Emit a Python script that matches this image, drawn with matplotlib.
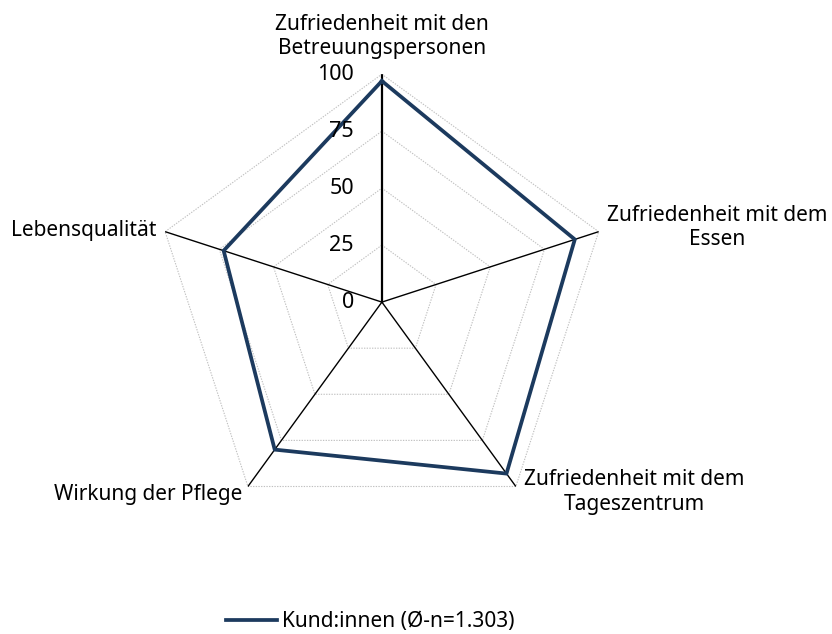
import numpy as np
import matplotlib.pyplot as plt
from matplotlib.lines import Line2D

plt.rcParams['font.family'] = ['Noto Sans', 'DejaVu Sans']

categories = ['Zufriedenheit mit den\nBetreuungspersonen',
              'Zufriedenheit mit dem\nEssen',
              'Zufriedenheit mit dem\nTageszentrum',
              'Wirkung der Pflege',
              'Lebensqualität']
values = [97, 89, 93, 80, 73]
ticks = [0, 25, 50, 75, 100]
series_name = 'Kund:innen (Ø-n=1.303)'

navy = '#1c3a5e'
n = len(categories)
theta = np.arange(n) * 2 * np.pi / n

fig = plt.figure(figsize=(8.32, 6.34), dpi=100)
fig.patch.set_facecolor('white')
ax = fig.add_axes([0.185, 0.164, 0.548, 0.719], projection='polar')
ax.set_theta_offset(np.pi / 2)
ax.set_theta_direction(-1)
ax.set_ylim(0, 100)
ax.grid(False)
ax.spines['polar'].set_visible(False)
ax.set_xticks([])
ax.set_yticks([])
ax.patch.set_alpha(0)

# pentagon grid
th_closed = np.append(theta, theta[0])
for t in ticks[1:]:
    ax.plot(th_closed, [t] * (n + 1), color='#c0c0c0', lw=0.8,
            ls=(0, (1.2, 1.2)), zorder=1)

# spokes
for i, th in enumerate(theta):
    ax.plot([th, th], [0, 100], color='black', lw=1.6 if i == 0 else 1.0, zorder=2)

# data
vals_closed = values + values[:1]
ax.plot(th_closed, vals_closed, color=navy, lw=2.7, zorder=3, solid_joinstyle='miter')

# value tick labels
fs = 15
for t in ticks:
    ax.annotate(str(t), xy=(0, t), xytext=(-20, 0), textcoords='offset points',
                ha='right', va='center', fontsize=15.5, color='black')

# category labels
ax.annotate(categories[0], xy=(theta[0], 100), xytext=(0, 11), textcoords='offset points',
            ha='center', va='bottom', fontsize=fs, linespacing=1.2)
ax.annotate(categories[1], xy=(theta[1], 100), xytext=(6, 3), textcoords='offset points',
            ha='left', va='center', fontsize=fs, linespacing=1.2, multialignment='center')
ax.annotate(categories[2], xy=(theta[2], 100), xytext=(6, -4), textcoords='offset points',
            ha='left', va='center', fontsize=fs, linespacing=1.2, multialignment='center')
ax.annotate(categories[3], xy=(theta[3], 100), xytext=(-4, -6), textcoords='offset points',
            ha='right', va='center', fontsize=fs)
ax.annotate(categories[4], xy=(theta[4], 100), xytext=(-6, 1), textcoords='offset points',
            ha='right', va='center', fontsize=fs)

handle = Line2D([], [], color=navy, lw=2.7)
fig.legend([handle], [series_name], loc='center', bbox_to_anchor=(0.445, 0.019),
           frameon=False, fontsize=fs, handlelength=2.45, handletextpad=0.25)

fig.savefig('out.png', dpi=100, facecolor='white')
